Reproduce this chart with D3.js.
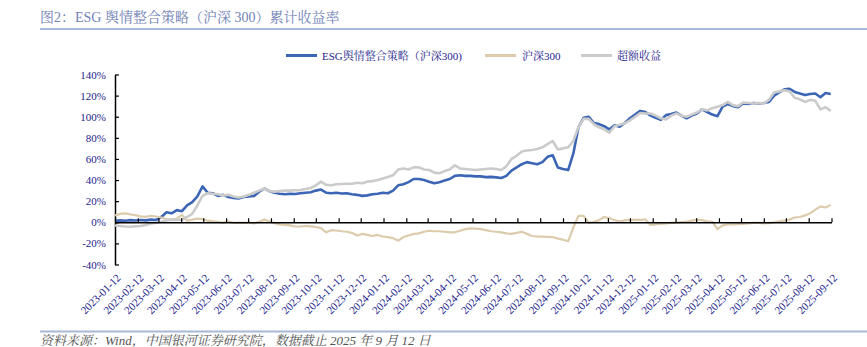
<!DOCTYPE html>
<html>
<head>
<meta charset="utf-8">
<script src="https://cdn.jsdelivr.net/npm/d3@7/dist/d3.min.js"></script>
<style>
  html, body { margin: 0; padding: 0; background: #fff; }
  svg { display: block; }
</style>
</head>
<body>
<svg id="chart" width="867" height="347"></svg>
<script>
// Weekly cumulative returns (%) starting 2023-01-12
const startDate = "2023-01-12";

const esgStrategy = [
  1.5, 1.8, 1.5, 2, 1.7, 2.2, 1.8, 2.5, 2.2, 5,
  9.5, 8.5, 11.5, 10.5, 16, 19, 24.5, 34, 28, 27.5,
  25, 26, 24, 23, 22.5, 24, 24.5, 25, 29, 32,
  29.5, 28, 27, 26.5, 27, 26.8, 27.5, 28, 28.5, 30,
  31, 28, 27.5, 28, 27.3, 27.5, 26.5, 26, 25, 25.5,
  26.5, 27, 28, 27.5, 30, 35, 36, 38, 41, 41,
  40, 38.5, 37, 38, 39.5, 41, 44, 44.5, 44, 44,
  43.5, 43.5, 42.8, 43, 42.5, 42, 44, 49, 52, 55,
  57, 56, 55, 57, 62, 63.5, 52, 50.5, 49.5, 65,
  90, 99, 100, 94, 93, 91, 88, 92, 90.5, 94,
  98.5, 102, 105.5, 104.5, 101, 99, 97, 101.5, 102.5, 104,
  101, 98.5, 101, 103, 107, 104.5, 102, 100.5, 109.5, 112,
  110, 109, 112.5, 112, 113, 112.5, 113, 114, 120, 123,
  126, 126.5, 123.5, 122, 120.5, 121.5, 122, 118.5, 122.5, 121.5
];

const csi300 = [
  6.5, 8, 8.5, 7.5, 6.8, 5.5, 5.2, 6, 5.5, 4.5,
  3, 2.5, 3.5, 7, 1.5, 2.5, 3.5, 3, 1.5, 1,
  0.5, -0.5, 0.8, -0.5, -0.3, -0.5, -0.2, -1, 0.5, 2.5,
  0.8, -0.8, -2, -2.5, -3, -4, -4, -3.5, -3.8, -4.5,
  -5.5, -9.5, -7.5, -7.8, -8.5, -9, -10, -12.5, -11, -12,
  -13, -12, -13.5, -14, -15, -17.5, -14, -12.5, -11, -10.5,
  -9, -8, -8.5, -8.5, -9, -9.5, -9.5, -8, -6.5, -5.8,
  -6, -6.5, -7.5, -8.5, -9, -9.5, -10.5, -11, -10, -9,
  -11, -13, -13.5, -13.5, -13.8, -14, -15.5, -16.5, -18, -5,
  6, 6, -0.5, 0.5, 2, 5, 4, 2, 1, 1.8,
  2.2, 2.5, 2.2, 2.8, -2.5, -2, -1.6, -1, -0.5, -0.3,
  0.2, 0.6, 1.5, 2.5, 2, 0.8, 0.5, -6.5, -3, -2,
  -2, -1.8, -1.5, -1, -0.5, -0.5, -1, -0.8, 0, 1,
  1.5, 2.5, 4.5, 5, 6.5, 8.5, 12, 15, 14, 16.5
];

const excessReturn = [
  -3, -3.5, -4, -4.2, -3.8, -3.5, -2.5, -1, -0.5, 0.5,
  2, 2.3, 2.2, 2.5, 5, 8, 16, 25, 27.5, 27,
  26.5, 25.5, 26, 24.5, 23.5, 24.5, 26, 28, 30, 32,
  29.5, 29, 29.5, 30, 30, 30.3, 30.5, 31.5, 32.5, 35,
  38.5, 35.5, 35, 36, 36.3, 36.5, 36.5, 37.5, 37, 38.5,
  39, 40, 41.5, 43, 44.5, 50, 51, 50, 52, 52,
  50, 49.5, 47, 46.5, 48.5, 50, 54, 51, 50.5, 50,
  49.5, 50, 50.5, 51, 50.5, 49.5, 53, 60, 63, 67,
  68, 68.5, 69.5, 71, 74, 77, 69, 70, 71, 77,
  90, 98, 98, 93, 90, 88, 85, 91, 92.5, 93.8,
  96.5, 100, 103.5, 103, 103, 101, 98.5, 97.5, 101, 103,
  101, 100, 102, 104, 107, 106, 108, 109.5, 111, 114,
  111, 110, 113.5, 113, 112.5, 113, 112.5, 116, 123, 124,
  125, 124, 118, 116.5, 114, 116, 115, 107, 109, 105.5
];

const xTickLabels = [
  "2023-01-12","2023-02-12","2023-03-12","2023-04-12","2023-05-12","2023-06-12",
  "2023-07-12","2023-08-12","2023-09-12","2023-10-12","2023-11-12","2023-12-12",
  "2024-01-12","2024-02-12","2024-03-12","2024-04-12","2024-05-12","2024-06-12",
  "2024-07-12","2024-08-12","2024-09-12","2024-10-12","2024-11-12","2024-12-12",
  "2025-01-12","2025-02-12","2025-03-12","2025-04-12","2025-05-12","2025-06-12",
  "2025-07-12","2025-08-12","2025-09-12"
];

const yTicks = [-40, -20, 0, 20, 40, 60, 80, 100, 120, 140];

const seriesNames = ["ESG舆情整合策略（沪深300)", "沪深300", "超额收益"];
const seriesColors = ["#3c66b5", "#dccbad", "#cbcbcb"];

const titleText = "图2：ESG 舆情整合策略（沪深 300）累计收益率";
const sourceText = "资料来源：Wind，中国银河证券研究院，数据截止 2025 年 9 月 12 日";

// ---- layout ----
const parse = d3.timeParse("%Y-%m-%d");
const t0 = parse(startDate);
const weekDate = i => d3.timeDay.offset(t0, 7 * i);
const tickDates = xTickLabels.map(parse);

const svg = d3.select("#chart");
const fontLatin = "'Liberation Serif', 'Times New Roman', 'Noto Serif CJK SC', 'Noto Sans CJK SC', serif";
const navy = "#23238c";

const x = d3.scaleTime()
  .domain([tickDates[0], tickDates[tickDates.length - 1]])
  .range([115, 831.5]);
const y = d3.scaleLinear().domain([-40, 140]).range([264.5, 74.5]);

// title + rules
svg.append("text")
  .attr("x", 40).attr("y", 21.5)
  .attr("font-family", fontLatin)
  .attr("font-size", 14)
  .attr("fill", "#7282b6")
  .text(titleText);
svg.append("line").attr("x1", 40).attr("x2", 867).attr("y1", 29).attr("y2", 29)
  .attr("stroke", "#a8b8d8").attr("stroke-width", 2);
svg.append("line").attr("x1", 40).attr("x2", 867).attr("y1", 331.5).attr("y2", 331.5)
  .attr("stroke", "#a8b8d8").attr("stroke-width", 2);
svg.append("text")
  .attr("x", 40).attr("y", 345)
  .attr("font-family", fontLatin)
  .attr("font-size", 13)
  .attr("font-style", "italic")
  .attr("fill", "#555")
  .text(sourceText);

// legend
const legendItems = [
  { lx: 286, tx: 322 },
  { lx: 485, tx: 522 },
  { lx: 581, tx: 617 }
];
const legend = svg.append("g");
legendItems.forEach((d, k) => {
  legend.append("line")
    .attr("x1", d.lx).attr("x2", d.lx + 31).attr("y1", 55.5).attr("y2", 55.5)
    .attr("stroke", seriesColors[k]).attr("stroke-width", 3);
  legend.append("text")
    .attr("x", d.tx).attr("y", 59.5)
    .attr("font-family", fontLatin)
    .attr("font-size", 11)
    .attr("fill", navy)
    .text(seriesNames[k]);
});

// y axis
const yAxis = svg.append("g")
  .attr("transform", `translate(${x.range()[0]},0)`)
  .call(d3.axisLeft(y).tickValues(yTicks).tickSizeInner(-4).tickSizeOuter(0)
    .tickPadding(9).tickFormat(d => d + "%"));
yAxis.select(".domain").attr("stroke", "#000").attr("stroke-width", 1.5);
yAxis.selectAll(".tick line").attr("stroke", "#000").attr("stroke-width", 1.2);
yAxis.selectAll(".tick text")
  .attr("font-family", fontLatin).attr("font-size", 11).attr("fill", navy);

// series
const line = d3.line()
  .x((d, i) => x(weekDate(i)))
  .y(d => y(d))
  .curve(d3.curveLinear);

const seriesData = [esgStrategy, csi300, excessReturn];
const widths = [2.6, 2.2, 2.6];
[0, 1, 2].forEach(k => {
  svg.append("path")
    .datum(seriesData[k])
    .attr("d", line)
    .attr("fill", "none")
    .attr("stroke", seriesColors[k])
    .attr("stroke-width", widths[k])
    .attr("stroke-linejoin", "round");
});

// zero line with monthly ticks pointing up
const xZero = svg.append("g")
  .attr("transform", `translate(0,${y(0)})`)
  .call(d3.axisTop(x).tickValues(tickDates).tickSizeInner(4).tickSizeOuter(0).tickFormat(""));
xZero.select(".domain").attr("stroke", "#000").attr("stroke-width", 1.5);
xZero.selectAll(".tick line").attr("stroke", "#000").attr("stroke-width", 1.2);

// rotated date labels under the plot
const xLab = svg.append("g")
  .attr("transform", `translate(0,${y(-40)})`)
  .call(d3.axisBottom(x).tickValues(tickDates).tickSize(0)
    .tickFormat((d, i) => xTickLabels[i]));
xLab.select(".domain").remove();
xLab.selectAll(".tick text")
  .attr("font-family", fontLatin).attr("font-size", 11).attr("fill", navy)
  .attr("text-anchor", "end")
  .attr("dy", null).attr("y", null)
  .attr("transform", "translate(6,14) rotate(-45)");
</script>
</body>
</html>
